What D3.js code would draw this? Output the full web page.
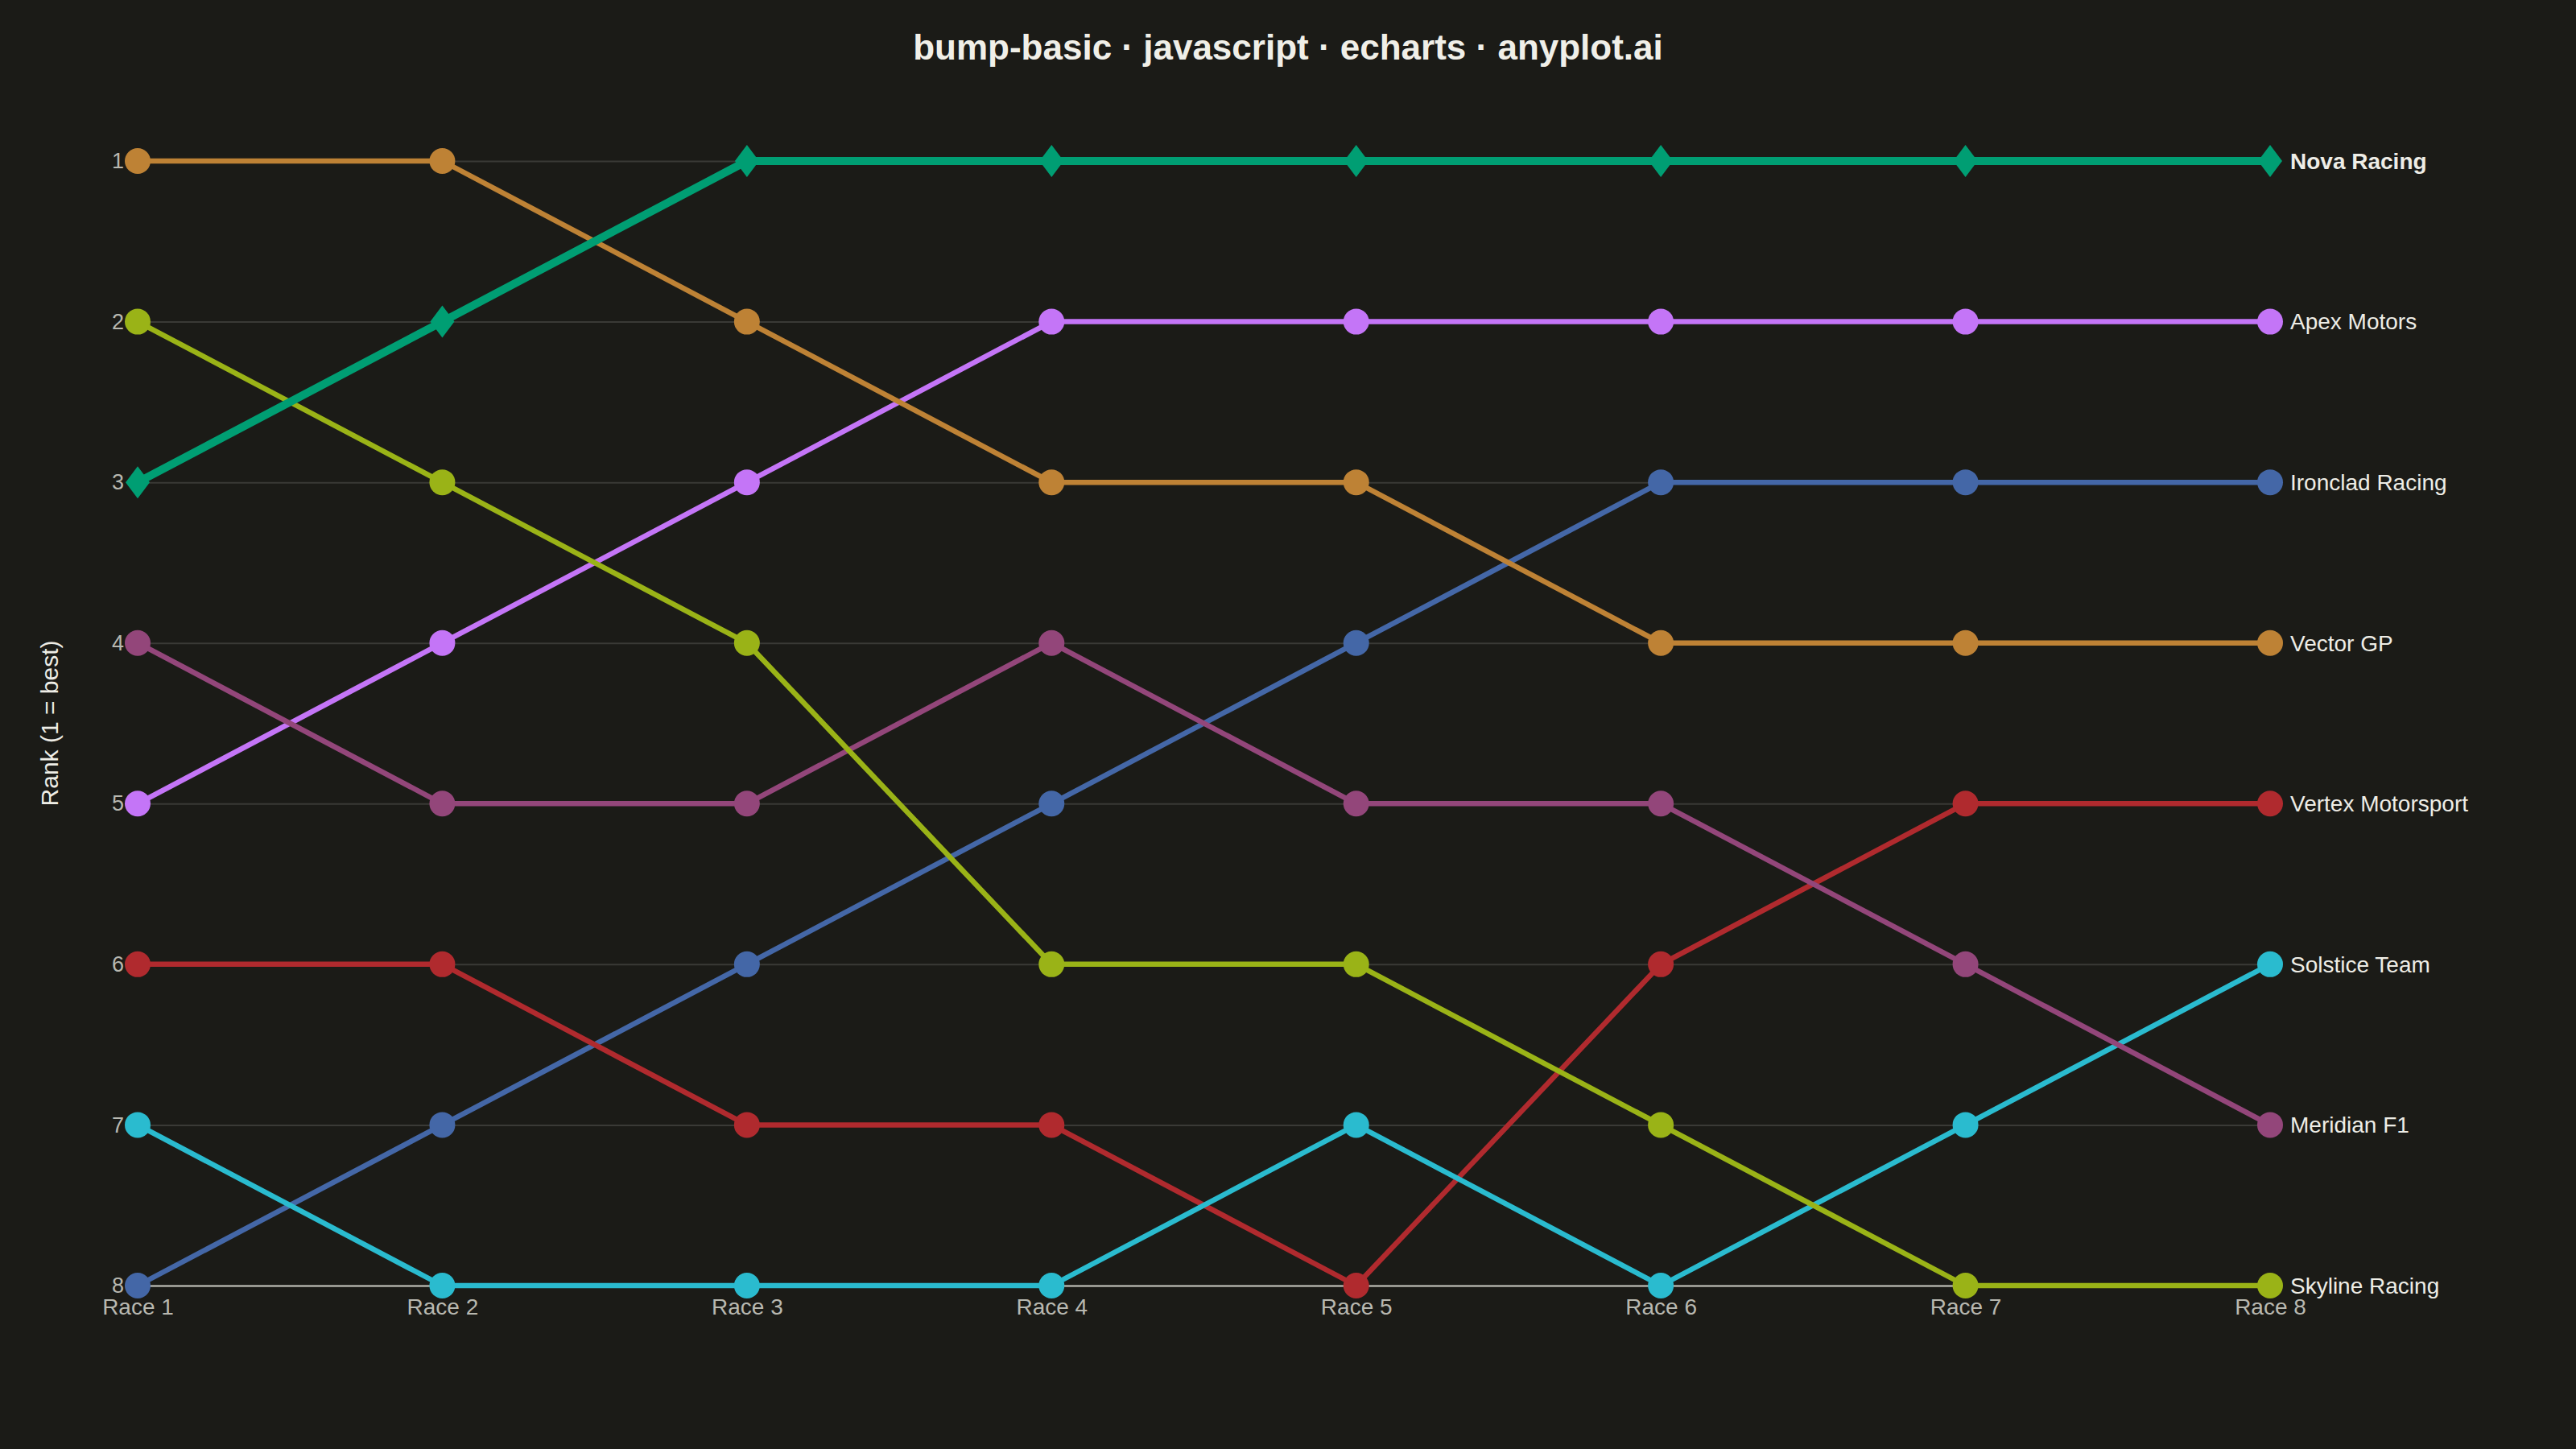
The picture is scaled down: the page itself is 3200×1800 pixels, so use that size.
<!DOCTYPE html>
<html>
<head>
<meta charset="utf-8">
<script src="https://cdn.jsdelivr.net/npm/d3@7"></script>
<style>
  html, body { margin: 0; padding: 0; background: #1b1b17; }
  svg { display: block; font-family: "Liberation Sans", Arial, Helvetica, sans-serif; }
</style>
</head>
<body>
<script>
// races along the x axis
const races = ['Race 1', 'Race 2', 'Race 3', 'Race 4', 'Race 5', 'Race 6', 'Race 7', 'Race 8'];
const rankTicks = [1, 2, 3, 4, 5, 6, 7, 8];

// team names and their rank per race (1 = best)
const teams = ['Nova Racing', 'Apex Motors', 'Ironclad Racing', 'Vector GP',
  'Vertex Motorsport', 'Solstice Team', 'Meridian F1', 'Skyline Racing'];
const novaRanks     = [3, 2, 1, 1, 1, 1, 1, 1];
const apexRanks     = [5, 4, 3, 2, 2, 2, 2, 2];
const ironcladRanks = [8, 7, 6, 5, 4, 3, 3, 3];
const vectorRanks   = [1, 1, 2, 3, 3, 4, 4, 4];
const vertexRanks   = [6, 6, 7, 7, 8, 6, 5, 5];
const solsticeRanks = [7, 8, 8, 8, 7, 8, 7, 6];
const meridianRanks = [4, 5, 5, 4, 5, 5, 6, 7];
const skylineRanks  = [2, 3, 4, 6, 6, 7, 8, 8];

const teamColors = ['#009e73', '#c475f7', '#4467a7', '#be8235',
  '#b02a2e', '#2abbcf', '#93467a', '#9ab317'];
const highlight = 'Nova Racing';

const rankRows = [novaRanks, apexRanks, ironcladRanks, vectorRanks,
  vertexRanks, solsticeRanks, meridianRanks, skylineRanks];

const W = 3200, H = 1800;
const margin = { left: 171, right: 380, top: 200, bottom: 203 };

const series = teams.map((name, i) => ({
  name: name,
  color: teamColors[i],
  ranks: rankRows[i]
}));

const svg = d3.select('body')
  .append('svg')
  .attr('width', W)
  .attr('height', H);

svg.append('rect')
  .attr('width', W)
  .attr('height', H)
  .attr('fill', '#1b1b17');

const x = d3.scalePoint()
  .domain(races)
  .range([margin.left, W - margin.right]);

const y = d3.scaleLinear()
  .domain([1, 8])
  .range([margin.top, H - margin.bottom]);

// title
svg.append('text')
  .attr('x', W / 2)
  .attr('y', 74)
  .attr('text-anchor', 'middle')
  .attr('fill', '#f0efe8')
  .style('font-size', '44px')
  .style('font-weight', 'bold')
  .text('bump-basic · javascript · echarts · anyplot.ai');

// horizontal grid + rank labels
const yAxis = svg.append('g')
  .attr('transform', `translate(${margin.left},0)`)
  .call(d3.axisLeft(y)
    .tickValues(rankTicks)
    .tickFormat(d3.format('d'))
    .tickSize(-(W - margin.right - margin.left))
    .tickPadding(17));

yAxis.select('.domain').remove();
yAxis.selectAll('.tick line')
  .attr('stroke', '#3a3a36')
  .attr('stroke-width', 2);
yAxis.selectAll('.tick text')
  .attr('fill', '#b8b8b0')
  .style('font-size', '27px');

// bottom axis with race labels
const xAxis = svg.append('g')
  .attr('transform', `translate(0,${y(8)})`)
  .call(d3.axisBottom(x).tickSize(0).tickPadding(16).tickSizeOuter(0));

xAxis.select('.domain')
  .attr('stroke', '#c8c8c0')
  .attr('stroke-width', 2);
xAxis.selectAll('.tick text')
  .attr('fill', '#b8b8b0')
  .style('font-size', '28px');

// y axis title
svg.append('text')
  .attr('transform', `translate(72,${(y(1) + y(8)) / 2}) rotate(-90)`)
  .attr('text-anchor', 'middle')
  .attr('fill', '#eeede6')
  .style('font-size', '30px')
  .text('Rank (1 = best)');

const line = d3.line()
  .x((d, i) => x(races[i]))
  .y(d => y(d));

// draw highlighted team last so it sits on top
const drawOrder = series.slice().sort((a, b) =>
  (a.name === highlight) - (b.name === highlight));

const groups = svg.append('g')
  .selectAll('g.team')
  .data(drawOrder)
  .enter()
    .append('g')
    .attr('class', 'team');

groups.append('path')
  .attr('d', d => line(d.ranks))
  .attr('fill', 'none')
  .attr('stroke', d => d.color)
  .attr('stroke-width', d => d.name === highlight ? 10 : 6.5)
  .attr('stroke-linejoin', 'round');

groups.each(function (d) {
  const g = d3.select(this);
  const pts = d.ranks.map((r, i) => ({ cx: x(races[i]), cy: y(r) }));
  if (d.name === highlight) {
    // tall diamond marker (30 wide, 40 tall)
    g.selectAll('path.marker')
      .data(pts)
      .enter()
        .append('path')
        .attr('class', 'marker')
        .attr('d', p => `M${p.cx},${p.cy - 20}L${p.cx + 15},${p.cy}L${p.cx},${p.cy + 20}L${p.cx - 15},${p.cy}Z`)
        .attr('fill', d.color);
  } else {
    g.selectAll('circle')
      .data(pts)
      .enter()
        .append('circle')
        .attr('cx', p => p.cx)
        .attr('cy', p => p.cy)
        .attr('r', 16)
        .attr('fill', d.color);
  }
});

// end labels
svg.append('g')
  .selectAll('text')
  .data(series)
  .enter()
    .append('text')
    .attr('x', x(races[races.length - 1]) + 25)
    .attr('y', d => y(d.ranks[d.ranks.length - 1]))
    .attr('dy', '0.35em')
    .attr('fill', '#eeede6')
    .style('font-size', '28px')
    .style('font-weight', d => d.name === highlight ? 'bold' : 'normal')
    .text(d => d.name);
</script>
</body>
</html>
